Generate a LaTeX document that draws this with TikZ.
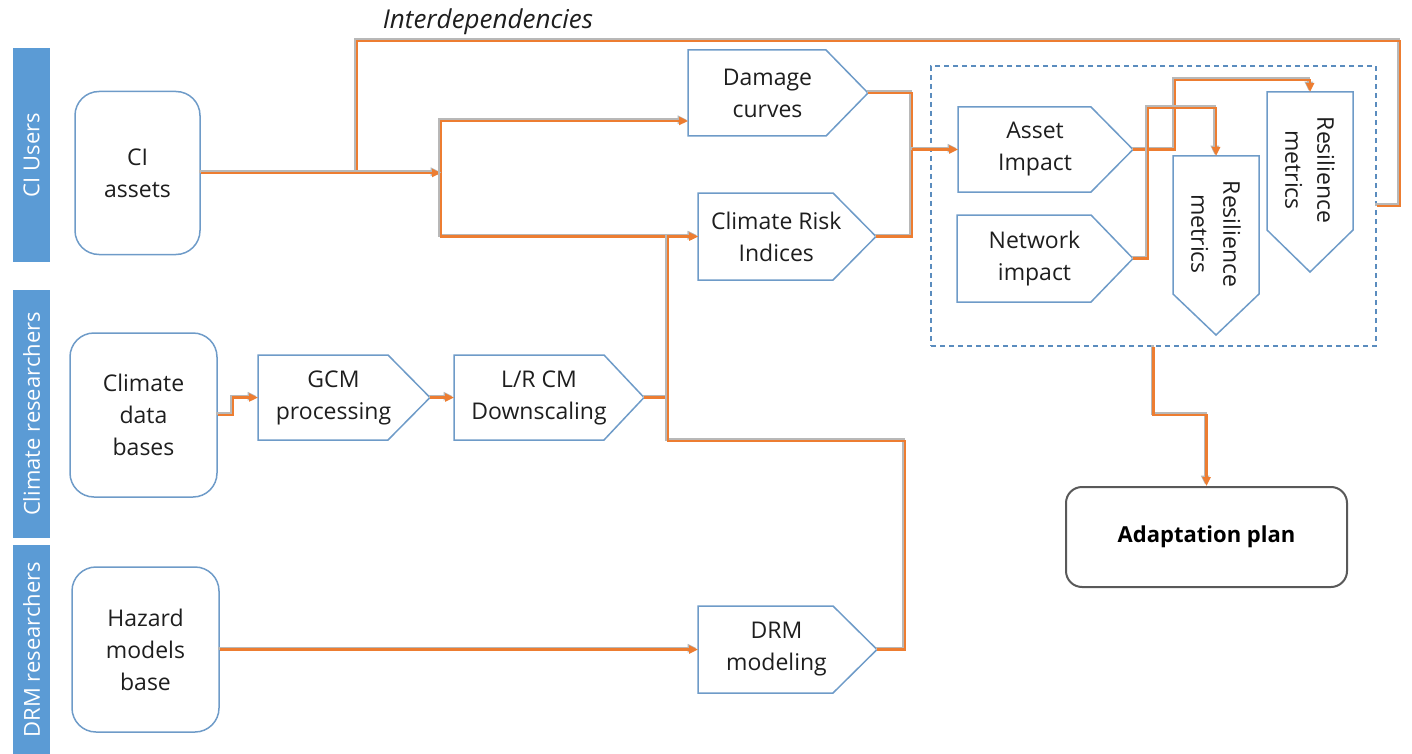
\documentclass[tikz,border=0pt]{standalone}
\usepackage{fontspec}
\setmainfont{Open Sans}
\usetikzlibrary{arrows.meta}
\definecolor{org}{HTML}{ED7D31}
\definecolor{bbar}{HTML}{5B9BD5}
\definecolor{bline}{HTML}{6E9BC8}
\definecolor{dgray}{HTML}{595959}
\definecolor{txtc}{HTML}{1E1E1E}
\definecolor{dashc}{HTML}{5A8CBE}

\newcommand{\pentR}[7]{% name, x1, x2, x3, ytop, ybot, text
  \draw[pentline] (#2,#5) -- (#3,#5) -- (#4,{(#5+#6)/2}) -- (#3,#6) -- (#2,#6) -- cycle;
  \node[ptxt] (#1) at ({(#2+#3)/2+(#4-#3)/4},{(#5+#6)/2}) {#7};
  \coordinate (#1-tip) at (#4,{(#5+#6)/2});
  \coordinate (#1-w) at (#2,{(#5+#6)/2});
}
\newcommand{\pentD}[8]{% name, x1, x2, ytop, y2, y3, text, text y
  \draw[pentline] (#2,#4) -- (#3,#4) -- (#3,#5) -- ({(#2+#3)/2},#6) -- (#2,#5) -- cycle;
  \node[ptxt, rotate=-90] (#1) at ({(#2+#3)/2},#8) {#7};
  \coordinate (#1-top) at ({(#2+#3)/2},#4);
}

\begin{document}
\begin{tikzpicture}[x=1pt,y=-1pt,
  font=\fontsize{23}{32}\selectfont,
  pentline/.style={draw=bline, line width=1.5pt, line join=miter},
  ptxt/.style={align=center, text=txtc, inner sep=0pt},
  rbox/.style={draw=bline, line width=1.5pt, rounded corners=24pt, align=center, text=txtc},
  bar/.style={fill=bbar, draw=none, inner sep=0pt},
  barlbl/.style={text=white, rotate=90, font=\fontsize{22}{24}\selectfont},
  shadow/.style={preaction={draw=black!28, line width=2.8pt, transform canvas={shift={(-1.3pt,1.3pt)}}}},
  wire/.style={draw=org, line width=2.8pt, line join=miter, shadow},
  conn/.style={wire, -{Triangle[length=9pt,width=8pt]}},
]
\useasboundingbox (0,0) rectangle (1412,754);

% lane bars
\node[bar, minimum width=37pt, minimum height=214pt] (barci) at (31.5,155) {};
\node[barlbl] (lblci) at (barci.center) {CI Users};
\node[bar, minimum width=37pt, minimum height=248pt] (barcl) at (31.5,414) {};
\node[barlbl] (lblcl) at (barcl.center) {Climate researchers};
\node[bar, minimum width=37pt, minimum height=209pt] (bardrm) at (31.5,649.5) {};
\node[barlbl] (lbldrm) at (bardrm.center) {DRM researchers};

% rounded source boxes
\node[rbox, minimum width=125pt, minimum height=163pt] (ci) at (137.5,173) {CI\\assets};
\node[rbox, minimum width=147pt, minimum height=164pt] (cdb) at (143.5,415) {Climate\\data\\bases};
\node[rbox, minimum width=147pt, minimum height=165pt] (hmb) at (145.5,649.5) {Hazard\\models\\base};

% pentagons
\pentR{dc}{688}{826}{868}{50}{136}{Damage\\curves}
\pentR{cri}{698}{833}{876}{193}{280}{Climate Risk\\Indices}
\pentR{gcm}{258}{388}{430}{355}{440}{GCM\\processing}
\pentR{lr}{454}{604}{644}{355}{440}{L/R CM\\Downscaling}
\pentR{drm}{698}{833}{877}{606}{693}{DRM\\modeling}
\pentR{ai}{958}{1091}{1133}{107}{192}{Asset\\Impact}
\pentR{ni}{957}{1091}{1133}{215}{302}{Network\\impact}
\pentD{rma}{1173}{1259}{156}{294}{335}{Resilience\\metrics}{234}
\pentD{rmb}{1267}{1353}{92}{230}{272}{Resilience\\metrics}{170}

% dashed group
\node[draw=dashc, line width=1.3pt, dash pattern=on 5pt off 4pt, minimum width=445pt, minimum height=280pt, inner sep=0pt] (grp) at (1153.5,206) {};

% adaptation plan
\node[draw=dgray, line width=2pt, rounded corners=16pt, minimum width=281pt, minimum height=100pt, font=\fontsize{22}{24}\selectfont\bfseries, text=black] (ap) at (1206.5,537) {Adaptation plan};

% interdependencies label
\node[font=\fontsize{26}{28}\selectfont\itshape, text=txtc] (inter) at (488,22) {Interdependencies};

% junction coordinates
\coordinate (j0) at (357,173);
\coordinate (j1) at (441,173);
\coordinate (dcin) at (688,121);
\coordinate (j2) at (668,397.5);
\coordinate (j4) at (912,149.5);

% connectors
\draw[wire] (j0) |- (1400,41) |- (grp.east);
\draw[conn] (ci.east) -- (j1);
\draw[conn] (j1) |- (dcin);
\draw[conn] (j1) |- (cri-w);
\draw[conn] (cdb.east) -- (233,415) |- (gcm-w);
\draw[conn] (gcm-tip) -- (lr-w);
\draw[wire] (lr-tip) -- (j2);
\draw[conn] (drm-tip) -- (905,649.5) -- (905,441) -- (668,441) -- (668,236.5) -- (cri-w);
\draw[conn] (hmb.east) -- (drm-w);
\draw[wire] (dc-tip) -- (912,93) -- (912,236.5) -- (cri-tip);
\draw[conn] (j4) -- (ai-w);
\draw[conn] (ai-tip) -- (1175,149.5) -- (1175,80) -| (rmb-top);
\draw[conn] (ni-tip) -- (1148,258.5) -- (1148,108) -| (rma-top);
\draw[conn] (grp.south) -- (1153.5,415) -| (ap.north);
\end{tikzpicture}
\end{document}
